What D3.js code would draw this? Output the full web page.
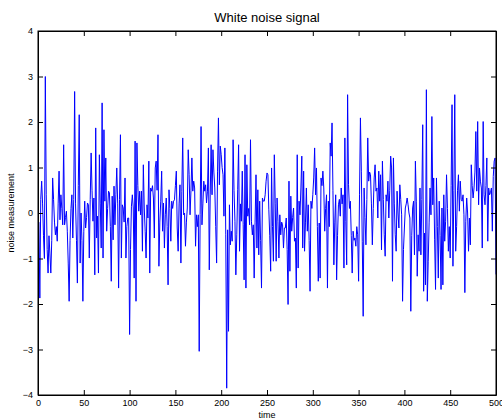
<!DOCTYPE html>
<html>
<head>
<meta charset="utf-8">
<title>White noise signal</title>
<script src="https://cdn.jsdelivr.net/npm/d3@7"></script>
<style>
    body { margin: 0; background: #ffffff; }
    svg { display: block; font-family: "Liberation Sans", Arial, Helvetica, sans-serif; }
</style>
</head>
<body>
<div id="chart"></div>
<script>
// noise samples (t = 1 .. 500)
var noise = [
    -0.2, -1.87, 0.3, 0.7, 0.2, -0.5, -1.0, 3.0, 0.4, -0.8,
    -1.32, -0.5, -0.9, -1.32, -0.6, 0.77, 0.3, -0.2, -0.48, -0.3,
    -0.62, 0.2, 0.92, -0.15, 0.4, 0.1, -0.26, 1.5, -0.26, -0.1,
    0.04, -0.4, -1.1, -1.94, -0.6, 0.1, 0.4, -0.55, 0.3, 2.67,
    0.2, -0.6, -1.54, 0.6, 2.16,
    -1.1, 0.0, -0.6, -1.94, -0.4, 0.26, -0.33, -0.1, 0.22, 0.18,
    -0.99, 0.3, 1.32, 0.5, -0.18, 0.33, -1.36, 1.87, -0.55, -0.07,
    -1.32, 1.28, 0.2, -0.77, 2.42, -0.99, 1.83, 0.26, 1.21, -0.4,
    0.1, 0.48, 0.44, -0.3, -1.5, 0.37, -0.59, 0.59, -0.26, 0.4,
    0.99, 0.2, -1.65, 0.3, 1.72, -0.99,
    0.18, 0.11, -0.2, 0.77, -0.99, -0.3, -0.11, -0.11, -2.67, -0.8,
    0.15, 0.4, 0.11, -1.43, 1.58, -1.94, 1.54, 0.6, 0.04, 0.48,
    -0.04, 0.48, -0.84, 1.06, 0.11, -0.4, -0.99, 0.18, -0.11, 1.14,
    -1.32, 0.55, 0.48, 0.6, 0.33, -0.55, 0.99, 1.14, 0.5, 1.72,
    -1.17, -0.2, 0.26, 0.92,
    -0.4, 0.22, -0.77, -0.04, 0.33, -0.3, -1.58, 0.51, 0.1, -0.62,
    0.26, 0.1, 0.26, 0.29, 0.6, 0.92, -0.33, -0.84, 0.2, 0.62,
    -1.1, 0.48, 1.65, -0.04, 0.0, -0.73, -0.2, 0.11, 1.39, 0.84,
    -0.04, 0.5, 1.21, 0.48, 0.7, 0.55, -0.73, -0.04, -0.3, -0.04,
    -3.04, -0.04, 1.9, -0.26, 0.2, 0.7,
    0.48, 0.62, 0.22, 0.48, 1.43, -1.25, 0.4, 1.5, 0.4, 1.39,
    0.9, 0.55, -0.3, -1.1, 0.92, 2.09, 0.62, 1.47, 1.28, 1.0,
    0.84, -0.07, 1.43, -0.48, -3.85, -0.37, -2.6, 0.18, -0.7, -0.4,
    -0.62, 1.61, 0.5, -0.18, -1.36, -0.48, 0.51, 1.5, -0.84, 0.2,
    -0.18, 0.92, -0.26, -1.47, 1.28,
    -1.65, 1.06, -0.07, 0.1, -0.26, 1.61, -0.18, -0.48, -0.26, -1.43,
    -0.2, 0.84, -0.77, 0.51, -0.92, 0.26, -0.6, -1.65, 0.33, 0.26,
    0.26, 0.4, 0.7, 0.88, 0.84, 0.07, -0.5, -1.28, 0.99, -0.3,
    -1.06, 1.28, 0.2, -1.06, 0.33, -0.18, -0.99, -0.04, -0.48, -0.2,
    -0.26, -0.77, -0.33, -0.33,
    -0.11, -0.8, -2.01, 0.7, -1.28, 0.37, -0.4, -0.1, 0.11, -0.62,
    -0.55, -1.65, 1.28, -1.21, 0.26, -0.04, 0.55, 1.25, -0.77, 0.92,
    -0.84, -0.2, 0.55, -0.4, 0.18, -0.6, -1.72, 0.26, 0.1, 0.4,
    0.77, 1.43, 0.4, 0.99, -0.3, -1.5, -0.22, -1.43, 0.77, 0.6,
    0.92, 0.55, -0.4, 0.1, 0.4, -1.65,
    0.26, -0.3, 1.54, 1.25, 1.98, 0.5, -1.14, -0.2, 0.4, -1.47,
    -0.5, 0.18, 0.3, -0.07, 0.55, 0.2, 0.4, -1.21, 1.65, -0.18,
    -1.14, 2.6, 0.62, 0.1, 0.26, -0.5, -1.32, -0.4, -0.6, -0.55,
    -0.73, -0.3, -0.48, -1.5, 0.4, 2.09, 0.92, -0.62, -2.27, 0.55,
    -0.1, -0.7, 0.3, 1.65, 0.7, 0.9, 0.84, 0.2, -0.7, 0.1,
    0.77,
    1.06, 0.48, 0.55, -0.11, 0.92, 0.26, 0.84, -0.81, 1.14, 0.3,
    -0.48, -0.95, 0.4, 0.26, 0.7, -0.11, 0.5, 1.25, 0.99, -1.5,
    1.21, 0.2, -0.48, -0.84, 0.48, 0.0, -0.33, 0.62, 0.3, -0.04,
    -1.94, -0.8, -0.33, 0.11, 0.2, 0.33, 0.18, 0.0, -0.11, -2.16,
    -0.5, 0.11, 0.26, -0.92, 1.14,
    0.26, -1.39, -0.48, -0.84, 0.55, -0.92, 0.3, 1.94, -1.72, -0.44,
    -1.58, 2.71, -1.94, -1.06, -0.2, 0.55, -0.04, 2.12, 0.18, 0.77,
    -0.59, -1.68, 0.77, -0.3, -1.43, 0.26, -0.5, -1.68, 0.11, -1.58,
    0.4, -0.62, -0.18, 0.84, 0.1, -0.84, -0.3, -0.99, 0.6, 2.38,
    -1.17, 0.5, 2.6, -0.84, -0.3, 0.5,
    0.84, 0.04, 0.7, 0.3, 0.26, 0.4, -0.04, -1.75, -0.18, 0.33,
    0.0, -0.84, -0.11, -0.7, 1.06, 0.6, 0.33, 0.55, 0.9, 1.79,
    0.48, 2.01, 0.18, 0.99, 0.7, 0.55, -0.77, 2.01, 0.4, 0.18,
    0.6, 1.21, -0.62, 0.55, 0.4, 0.45, 0.55, -0.4, 0.8, 1.14,
    1.21, -1.35
];

var xTicks = [0, 50, 100, 150, 200, 250, 300, 350, 400, 450, 500];
var yTicks = [-4, -3, -2, -1, 0, 1, 2, 3, 4];

var chartTitle = "White noise signal";
var xLabel = "time";
var yLabel = "noise measurement";

var W = 502, H = 419;
var margin = { top: 31, right: 6, bottom: 24, left: 38 };
var width = W - margin.left - margin.right;
var height = H - margin.top - margin.bottom;

var svg = d3.select("#chart")
    .append("svg")
    .attr("width", W)
    .attr("height", H);

var g = svg.append("g")
    .attr("transform", "translate(" + margin.left + "," + margin.top + ")");

var xScale = d3.scaleLinear().domain([0, 500]).range([0, width]);
var yScale = d3.scaleLinear().domain([-4, 4]).range([height, 0]);

g.append("rect")
    .attr("width", width)
    .attr("height", height)
    .attr("fill", "#ffffff");

// MATLAB-like axes: ticks point inward, on all four sides
var xAxis = d3.axisBottom(xScale).tickValues(xTicks).tickSizeInner(-5).tickSizeOuter(0).tickPadding(5);
var yAxis = d3.axisLeft(yScale).tickValues(yTicks).tickSizeInner(-5).tickSizeOuter(0).tickPadding(5);
var xAxisTop = d3.axisTop(xScale).tickValues(xTicks).tickSizeInner(-5).tickSizeOuter(0).tickFormat("");
var yAxisRight = d3.axisRight(yScale).tickValues(yTicks).tickSizeInner(-5).tickSizeOuter(0).tickFormat("");

var line = d3.line()
    .x(function (d, i) { return xScale(i + 1); })
    .y(function (d) { return yScale(d); });

g.append("path")
    .datum(noise)
    .attr("fill", "none")
    .attr("stroke", "#0000ff")
    .attr("stroke-width", 1)
    .attr("d", line);

g.append("g").attr("class", "axis")
    .attr("transform", "translate(0," + height + ")")
    .call(xAxis);
g.append("g").attr("class", "axis").call(yAxis);
g.append("g").attr("class", "axis").call(xAxisTop);
g.append("g").attr("class", "axis")
    .attr("transform", "translate(" + width + ",0)")
    .call(yAxisRight);

g.selectAll(".axis path").attr("stroke", "#000");
g.selectAll(".axis line").attr("stroke", "#000");
g.selectAll(".axis text").attr("font-size", 9).attr("fill", "#000")
    .attr("font-family", "Liberation Sans, Arial, sans-serif");

g.append("rect")
    .attr("width", width)
    .attr("height", height)
    .attr("fill", "none")
    .attr("stroke", "#000")
    .attr("stroke-width", 1);

svg.append("text")
    .attr("x", margin.left + width / 2)
    .attr("y", 22)
    .attr("text-anchor", "middle")
    .attr("font-size", 13)
    .text(chartTitle);

svg.append("text")
    .attr("x", margin.left + width / 2)
    .attr("y", H - 1)
    .attr("text-anchor", "middle")
    .attr("font-size", 9)
    .text(xLabel);

svg.append("text")
    .attr("transform", "translate(14," + (margin.top + height / 2) + ") rotate(-90)")
    .attr("text-anchor", "middle")
    .attr("font-size", 9)
    .text(yLabel);
</script>
</body>
</html>
